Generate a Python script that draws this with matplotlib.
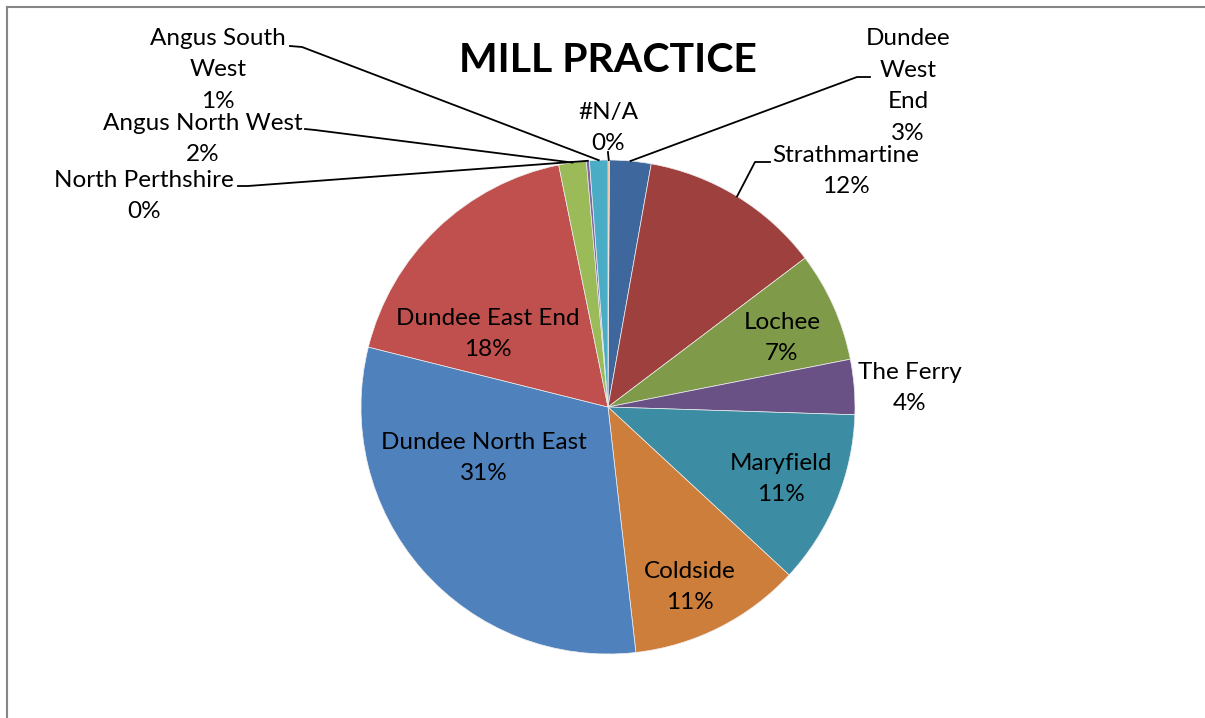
import matplotlib.pyplot as plt
import numpy as np

plt.rcParams['font.family'] = ['Lato', 'DejaVu Sans']

# slices in clockwise order from 12 o'clock
practices = ['#N/A', 'Dundee West End', 'Strathmartine', 'Lochee', 'The Ferry',
             'Maryfield', 'Coldside', 'Dundee North East', 'Dundee East End',
             'Angus North West', 'North Perthshire', 'Angus South West']
shares = [0.1, 2.7, 11.9, 7.2, 3.6, 11.4, 11.3, 30.7, 17.9, 1.8, 0.2, 1.2]
# how the names wrap in the chart
label_names = ['#N/A', 'Dundee\nWest\nEnd', 'Strathmartine', 'Lochee', 'The Ferry',
               'Maryfield', 'Coldside', 'Dundee North East', 'Dundee East End',
               'Angus North West', 'North Perthshire', 'Angus South\nWest']

colours = ['#F79646', '#3D679D', '#9E413E', '#7F9A48', '#695185', '#3C8DA3',
           '#CD7E3A', '#4F81BD', '#C0504D', '#9BBB59', '#8064A2', '#4BACC6']

# layout (pixels)
W, H = 1205, 718
cx, cy, R = 608, 407, 247
label_pos = [(608, 128), (908, 86), (846, 171), (782, 338), (910, 388),
             (781, 479), (690, 587), (484, 458), (488, 334),
             (203, 139), (144, 196), (218, 70)]
# leader lines: (text end, elbow) or None for labels inside the pie
leaders = [((608, 152), (608, 153)), ((870, 77), (857, 77)), ((770, 162), (755, 162)),
           None, None, None, None, None, None,
           ((305, 129), (315, 130)), ((238, 186), (248, 186)), ((290, 46), (302, 47))]

fig = plt.figure(figsize=(W / 100, H / 100), dpi=100)
ax = fig.add_axes([0, 0, 1, 1])

wedges, _ = ax.pie(shares, colors=colours, startangle=-90, counterclock=True,
                   radius=R, center=(cx, cy),
                   wedgeprops=dict(edgecolor='#eeeeee', linewidth=0.5))
ax.set_xlim(0, W)
ax.set_ylim(H, 0)
ax.set_aspect('auto')
ax.axis('off')

total = sum(shares)
for i, w in enumerate(wedges):
    pct = round(shares[i] / total * 100)
    x, y = label_pos[i]
    ax.text(x, y, '%s\n%d%%' % (label_names[i], pct), ha='center', va='center',
            fontsize=17.5, linespacing=1.63, color='black')
    if leaders[i] is not None:
        mid = np.deg2rad((w.theta1 + w.theta2) / 2)
        px, py = cx + R * np.cos(mid), cy + R * np.sin(mid)
        (x0, y0), (x1, y1) = leaders[i]
        ax.plot([x0, x1, px], [y0, y1, py], color='black', lw=1.3)

ax.text(608, 61, 'MILL PRACTICE', ha='center', va='center', fontsize=29.5,
        fontweight='bold')

# chart area border (top and left visible)
ax.plot([7, W], [7, 7], color='#868686', lw=1.5, clip_on=False)
ax.plot([7, 7], [7, H], color='#868686', lw=1.5, clip_on=False)

fig.savefig('out.png', dpi=100)
